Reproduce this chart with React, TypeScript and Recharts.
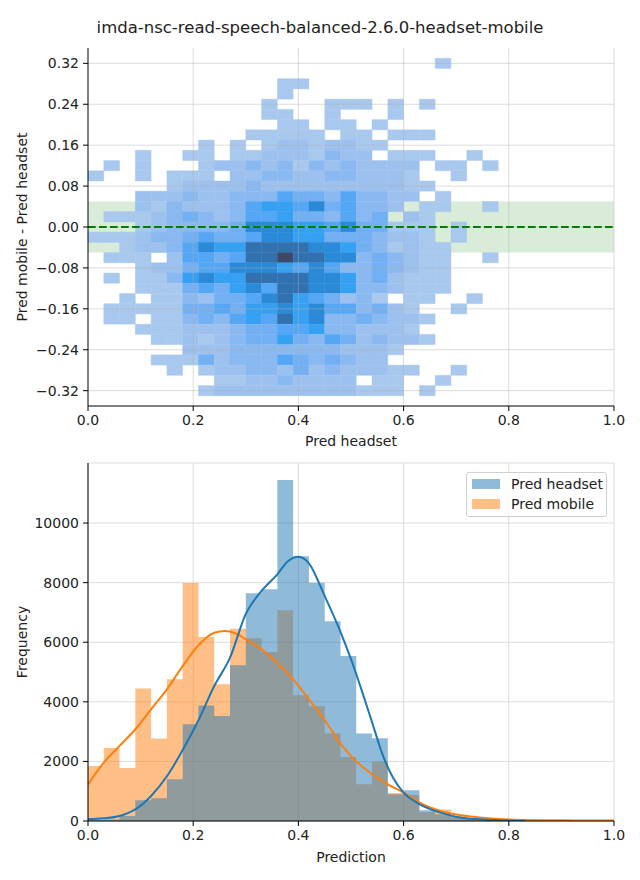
import React from "react";
import {
  Area,
  CartesianGrid,
  ComposedChart,
  Line,
  ReferenceArea,
  ReferenceLine,
  Scatter,
  XAxis,
  YAxis,
} from "recharts";

const TITLE = "imda-nsc-read-speech-balanced-2.6.0-headset-mobile";
const FONT = '"DejaVu Sans", Verdana, sans-serif';
const INK = "#222";
const GRID = "#dcdcdc";

// 2D histogram, one string per row from the top (y = 0.35 down to -0.35),
// one char per x bin of width 0.03. "." = empty, 1..9 = colour level.
const heatRows = [
  "..........|..........|..........",
  "..........|..........|..1.......",
  "..........|..........|..........",
  "..........|..11......|..........",
  "..........|..1.......|..........",
  "..........|.1...111.1|.1........",
  "..........|.11..1...1|..........",
  "..........|..11.11.1.|..........",
  "..........|11111.11.1|11........",
  ".......1.1|.12212211.|..........",
  "...1..11.1|12221322.1|11..1.....",
  ".1.1...122|3231323222|2.11.1....",
  "1..1.111.2|2332233222|1..1......",
  ".....12222|3222222222|11........",
  "...2223223|3354435332|2.1.......",
  "...2132223|5665745332|.11..1....",
  ".111234323|556443534.|21........",
  "...1233334|7776657441|11.1......",
  "1112334544|5776644432|21.1......",
  "..12235766|8888776431|211.......",
  ".111.25545|8898877343|211..1....",
  "...1224557|7765753343|211.......",
  ".1.1136766|8888776342|111.......",
  "...1114546|7588776332|111.......",
  "..1.113244|578654231.|11..1.....",
  ".111114454|6676755342|1..1......",
  ".11.113435|6586733432|21........",
  "...1112223|4455633222|1.........",
  "....112123|4464354232|21........",
  "......2223|3333332221|..........",
  "....111423|335434322.|..........",
  ".....1.122|3324232221|1..1......",
  "........11|2232222.11|..1.......",
  ".......122|2222222111|.1........",
  "......1.11|12221111..|1.........",
].map((r) => r.replace(/\|/g, ""));

const HEAT_DX = 0.03;
const HEAT_DY = 0.02;
const HEAT_TOP = 0.35;

const heatColors = [
  "none",
  "#a9c8ee",
  "#9dc1ef",
  "#8ab9f1",
  "#72b0f3",
  "#55a7f5",
  "#36a0f3",
  "#2b8ad8",
  "#3271b0",
  "#3b4a68",
];

const diffTicks = [-0.32, -0.24, -0.16, -0.08, 0, 0.08, 0.16, 0.24, 0.32];
const predTicks = [0, 0.2, 0.4, 0.6, 0.8, 1.0];
const freqTicks = [0, 2000, 4000, 6000, 8000, 10000];

// 1D histograms, bins of 0.03 starting at 0
const headsetCounts = [
  30, 50, 170, 700, 760, 1400, 3250, 3880, 3520, 5225, 7640, 7775, 11443, 8883,
  8000, 6700, 5537, 2940, 2775, 900, 1030, 360, 225, 125, 80, 60, 40, 30, 0, 0,
  0, 0, 0, 0,
];
const mobileCounts = [
  1850, 2450, 1780, 4450, 2765, 4755, 7990, 6175, 4590, 6450, 6130, 5670, 7070,
  4220, 3850, 2940, 2150, 1230, 1990, 940, 870, 300, 390, 170, 110, 80, 60, 40,
  30, 20, 15, 10, 8, 5,
];

// kde curves (scaled to counts)
const kdeHeadsetX = [
  0, 0.03, 0.06, 0.09, 0.12, 0.15, 0.18, 0.21, 0.24, 0.27, 0.3, 0.33, 0.36, 0.38,
  0.4, 0.42, 0.45, 0.48, 0.5, 0.52, 0.54, 0.56, 0.58, 0.6, 0.63, 0.67, 0.71, 0.76,
  0.83,
];
const kdeHeadsetY = [
  55, 90, 170, 390, 840, 1500, 2380, 3380, 4530, 5480, 6950, 7720, 8280, 8720,
  8870, 8650, 7550, 6350, 5430, 4400, 3320, 2230, 1450, 950, 570, 280, 110, 45, 10,
];
const kdeMobileX = [
  0, 0.03, 0.06, 0.09, 0.12, 0.15, 0.18, 0.21, 0.24, 0.26, 0.28, 0.3, 0.33, 0.36,
  0.39, 0.42, 0.45, 0.48, 0.51, 0.54, 0.57, 0.6, 0.63, 0.67, 0.71, 0.76, 0.81, 0.9,
  1.0,
];
const kdeMobileY = [
  1230, 1960, 2520, 3080, 3750, 4420, 5200, 5900, 6320, 6375, 6300, 6100, 5760,
  5300, 4750, 4080, 3390, 2600, 2000, 1570, 1230, 950, 620, 335, 190, 90, 45, 25,
  15,
];

const heatCells = heatRows.flatMap((row, r) =>
  row.split("").flatMap((ch, c) =>
    ch === "."
      ? []
      : [
          {
            key: `${r}-${c}`,
            x1: c * HEAT_DX,
            x2: (c + 1) * HEAT_DX,
            y1: HEAT_TOP - (r + 1) * HEAT_DY,
            y2: HEAT_TOP - r * HEAT_DY,
            x: (c + 0.5) * HEAT_DX,
            y: HEAT_TOP - (r + 0.5) * HEAT_DY,
            color: heatColors[Number(ch)],
          },
        ]
  )
);

const histRows = [
  ...headsetCounts.map((h, i) => ({ x: i * HEAT_DX, headset: h, mobile: mobileCounts[i] })),
  { x: 1, headset: 0, mobile: mobileCounts[mobileCounts.length - 1] },
];
const kdeHeadset = kdeHeadsetX.map((x, i) => ({ x, kde: kdeHeadsetY[i] }));
const kdeMobile = kdeMobileX.map((x, i) => ({ x, kde: kdeMobileY[i] }));

const fmtDiff = (v: number) => (v < 0 ? "\u2212" : "") + Math.abs(v).toFixed(2);
const fmtPred = (v: number) => v.toFixed(1);

const tickStyle = { fontSize: 14, fill: INK, fontFamily: FONT };
const labelStyle = { fontSize: 14, fill: INK, fontFamily: FONT, textAnchor: "middle" as const };

function LegendBox() {
  const items = [
    { name: "Pred headset", color: "#8fbbd9" },
    { name: "Pred mobile", color: "#ffbf86" },
  ];
  return (
    <div
      style={{
        position: "absolute",
        left: 466,
        top: 472,
        width: 141,
        height: 45,
        border: "1px solid #d0d0d0",
        borderRadius: 3,
        background: "rgba(255,255,255,0.8)",
        fontFamily: FONT,
        fontSize: 14,
        color: INK,
        boxSizing: "border-box",
        padding: "1px 0 0 5px",
      }}
    >
      {items.map((it) => (
        <div key={it.name} style={{ display: "flex", alignItems: "center", height: 20 }}>
          <span style={{ width: 28, height: 10, background: it.color, marginRight: 11 }} />
          <span>{it.name}</span>
        </div>
      ))}
    </div>
  );
}

export default function App() {
  return (
    <div style={{ position: "absolute", left: 0, top: 0, width: 640, height: 880, background: "#fff" }}>
      <div
        style={{
          position: "absolute",
          left: 0,
          top: 18,
          width: 640,
          textAlign: "center",
          fontFamily: FONT,
          fontSize: 16.5,
          color: INK,
        }}
      >
        {TITLE}
      </div>

      <div style={{ position: "absolute", left: 0, top: 0 }}>
        <ComposedChart width={640} height={455} margin={{ top: 48, right: 26, bottom: 4, left: 10 }}>
          <XAxis
            type="number"
            dataKey="x"
            domain={[0, 1]}
            ticks={predTicks}
            tickFormatter={fmtPred}
            allowDataOverflow
            height={45}
            tick={tickStyle}
            tickSize={5}
            tickMargin={4}
            stroke="#000"
            label={{ value: "Pred headset", position: "insideBottom", offset: 5, style: labelStyle }}
          />
          <YAxis
            type="number"
            dataKey="y"
            domain={[-0.35, 0.35]}
            ticks={diffTicks}
            tickFormatter={fmtDiff}
            allowDataOverflow
            width={78}
            tick={tickStyle}
            tickSize={5}
            tickMargin={4}
            stroke="#000"
            label={{
              value: "Pred mobile - Pred headset",
              angle: -90,
              position: "insideLeft",
              offset: 12,
              style: labelStyle,
            }}
          />
          <ReferenceArea y1={-0.05} y2={0.05} fill="#008000" fillOpacity={0.15} stroke="none" />
          {heatCells.map((c) => (
            <ReferenceArea
              key={c.key}
              x1={c.x1}
              x2={c.x2}
              y1={c.y1}
              y2={c.y2}
              fill={c.color}
              fillOpacity={1}
              stroke={c.color}
              strokeWidth={0.4}
            />
          ))}
          <Scatter data={heatCells} dataKey="y" shape={() => <g />} isAnimationActive={false} />
          {/* grid sits on top of the cells, as in matplotlib */}
          {predTicks.slice(1).map((t) => (
            <ReferenceLine key={`gx${t}`} x={t} stroke="#b0b0b0" strokeOpacity={0.45} />
          ))}
          {diffTicks.map((t) => (
            <ReferenceLine key={`gy${t}`} y={t} stroke="#b0b0b0" strokeOpacity={0.45} />
          ))}
          <ReferenceLine y={0} stroke="#008000" strokeWidth={2} strokeDasharray="7.7 3.3" />
        </ComposedChart>
      </div>

      <div style={{ position: "absolute", left: 0, top: 440 }}>
        <ComposedChart
          width={640}
          height={440}
          data={histRows}
          margin={{ top: 23, right: 26, bottom: 14, left: 10 }}
        >
          <CartesianGrid stroke={GRID} />
          <XAxis
            type="number"
            dataKey="x"
            domain={[0, 1]}
            ticks={predTicks}
            tickFormatter={fmtPred}
            allowDataOverflow
            height={45}
            tick={tickStyle}
            tickSize={5}
            tickMargin={4}
            stroke="#000"
            label={{ value: "Prediction", position: "insideBottom", offset: 4, style: labelStyle }}
          />
          <YAxis
            type="number"
            domain={[0, 12015]}
            ticks={freqTicks}
            allowDataOverflow
            width={78}
            tick={tickStyle}
            tickSize={5}
            tickMargin={4}
            stroke="#000"
            label={{
              value: "Frequency",
              angle: -90,
              position: "insideLeft",
              offset: 12,
              style: labelStyle,
            }}
          />
          <Area
            type="stepAfter"
            dataKey="mobile"
            fill="#ff7f0e"
            fillOpacity={0.5}
            stroke="none"
            isAnimationActive={false}
          />
          <Area
            type="stepAfter"
            dataKey="headset"
            fill="#1f77b4"
            fillOpacity={0.5}
            stroke="none"
            isAnimationActive={false}
          />
          <Line
            data={kdeMobile}
            dataKey="kde"
            type="monotone"
            stroke="#ff7f0e"
            strokeWidth={2}
            dot={false}
            isAnimationActive={false}
          />
          <Line
            data={kdeHeadset}
            dataKey="kde"
            type="monotone"
            stroke="#1f77b4"
            strokeWidth={2}
            dot={false}
            isAnimationActive={false}
          />
        </ComposedChart>
      </div>

      <LegendBox />
    </div>
  );
}
